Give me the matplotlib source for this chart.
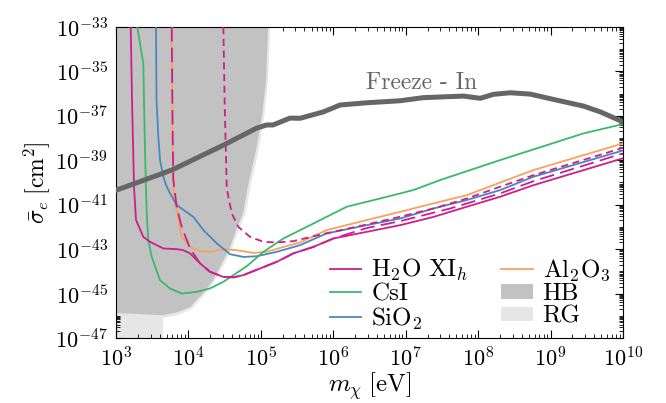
import numpy as np
import matplotlib
matplotlib.use('Agg')
import matplotlib.pyplot as plt
from matplotlib.patches import Patch
from matplotlib.ticker import LogLocator, NullFormatter

plt.rcParams['font.family'] = 'serif'
plt.rcParams['font.serif'] = ['cmr10']
plt.rcParams['mathtext.fontset'] = 'cm'
plt.rcParams['axes.unicode_minus'] = True
plt.rcParams['axes.formatter.use_mathtext'] = True

# all values are log10(m / eV) and log10(sigma / cm^2)
h2o_m = [3.203, 3.221, 3.249, 3.276, 3.377, 3.470, 3.653, 3.838, 3.930, 4.022, 4.160, 4.298,
         4.482, 4.620, 4.758, 4.989, 5.220, 5.449, 5.725, 6.001, 6.463, 6.923, 7.383, 7.844,
         8.304, 8.764, 9.999]
h2o_s = [-33.0, -36.29, -40.25, -41.69, -42.45, -42.67, -42.97, -43.00, -43.05, -43.19, -43.64, -44.02,
         -44.25, -44.27, -44.17, -43.87, -43.57, -43.19, -42.90, -42.52, -42.22, -41.92, -41.55, -41.09,
         -40.64, -40.12, -38.91]

h2o_ld_m = [3.769, 3.780, 3.791, 3.838, 3.907, 4.022, 4.160, 4.298, 4.482, 4.620, 4.758, 4.989,
            5.220, 5.449, 5.725, 6.001, 6.463, 6.923, 7.613, 8.304, 8.764, 9.999]
h2o_ld_s = [-33.0, -37.19, -39.89, -41.09, -42.00, -42.97, -43.64, -44.02, -44.25, -44.27, -44.17, -43.87,
            -43.57, -43.19, -42.90, -42.52, -42.05, -41.74, -41.17, -40.49, -39.94, -38.69]

h2o_sd_m = [4.482, 4.499, 4.529, 4.551, 4.598, 4.689, 4.851, 5.035, 5.220, 5.449, 5.725, 6.001,
            6.463, 6.923, 7.383, 7.844, 8.304, 8.764, 9.999]
h2o_sd_s = [-33.0, -36.29, -40.27, -40.64, -41.39, -42.00, -42.45, -42.67, -42.70, -42.64, -42.42, -42.22,
            -41.89, -41.54, -41.17, -40.72, -40.19, -39.67, -38.44]

csi_m = [3.294, 3.331, 3.377, 3.387, 3.401, 3.414, 3.424, 3.446, 3.493, 3.608, 3.746, 3.907, 4.115,
         4.298, 4.482, 4.805, 5.035, 5.311, 5.680, 6.186, 6.646, 7.106, 7.475, 8.304, 9.454, 9.999]
csi_s = [-33.0, -33.73, -34.64, -36.42, -38.68, -40.27, -41.39, -42.59, -43.35, -44.40, -44.77, -45.00, -44.92,
         -44.77, -44.47, -43.77, -43.12, -42.52, -41.92, -41.09, -40.72, -40.34, -39.89, -38.99, -37.79, -37.37]

sio2_m = [3.552, 3.559, 3.584, 3.608, 3.653, 3.691, 3.746, 3.838, 3.999, 4.068, 4.206, 4.391, 4.575,
          4.758, 4.943, 5.220, 5.541, 5.910, 6.463, 6.923, 7.383, 7.844, 8.304, 8.764, 9.999]
sio2_s = [-33.0, -36.29, -37.94, -38.99, -39.74, -40.12, -40.49, -41.02, -41.39, -41.55, -42.14, -42.74, -43.23,
          -43.35, -43.32, -43.12, -42.82, -42.29, -41.92, -41.62, -41.17, -40.79, -40.34, -39.74, -38.56]

al2o3_m = [3.769, 3.780, 3.801, 3.838, 3.907, 4.022, 4.160, 4.298, 4.482, 4.667, 4.896, 5.081, 5.311,
           5.541, 5.910, 6.463, 6.923, 7.383, 7.844, 8.207, 8.764, 9.999]
al2o3_s = [-33.0, -38.54, -40.79, -41.24, -42.45, -42.90, -43.09, -43.12, -43.00, -43.05, -43.17, -43.12, -42.90,
           -42.70, -42.14, -41.69, -41.32, -40.94, -40.57, -40.12, -39.44, -38.24]

freeze_m = [3.0, 3.769, 4.482, 4.943, 5.081, 5.168, 5.403, 5.541, 5.863, 6.094, 6.463, 6.923, 7.244,
            7.797, 8.028, 8.211, 8.442, 8.718, 9.040, 9.454, 9.685, 10.0]
freeze_s = [-40.35, -39.44, -38.32, -37.55, -37.41, -37.41, -37.10, -37.11, -36.82, -36.51, -36.41, -36.32, -36.18,
            -36.11, -36.21, -36.03, -35.96, -36.02, -36.26, -36.56, -36.82, -37.27]

hb_m = [3.0, 5.099, 5.072, 5.017, 4.934, 4.823, 4.754, 4.657, 4.575, 4.464, 4.340, 4.202, 4.022, 3.843, 3.649, 3.0]
hb_s = [-33.0, -33.0, -35.39, -36.96, -38.54, -40.12, -41.38, -42.14, -42.91, -43.63, -44.40, -44.98, -45.61,
        -45.84, -45.97, -45.88]

rg_m = [3.0, 5.13, 5.10, 5.05, 4.97, 4.86, 4.79, 4.69, 4.61, 4.50, 4.37, 4.23, 4.05, 3.86, 3.65, 3.65, 3.0]
rg_s = [-33.0, -33.0, -35.39, -36.96, -38.54, -40.12, -41.38, -42.14, -42.91, -43.63, -44.40, -45.02, -45.68,
        -45.96, -46.10, -47.0, -47.0]

c_h2o = '#cc1f8a'
c_csi = '#3cb86a'
c_sio2 = '#4a86c0'
c_al = '#f7a35c'
c_hb = '#c2c2c2'
c_rg = '#e6e6e6'
c_fi = '#666666'

def p(a):
    return 10**np.array(a)

fig = plt.figure(figsize=(6.66, 4.03), dpi=100)
ax = fig.add_axes([0.1742, 0.1613, 0.7613, 0.7717])

ax.fill(p(rg_m), p(rg_s), color=c_rg, lw=0, zorder=1)
ax.fill(p(hb_m), p(hb_s), color=c_hb, lw=0, zorder=2)

lw = 1.3
ax.plot(p(al2o3_m), p(al2o3_s), color=c_al, lw=lw, zorder=3)
ax.plot(p(sio2_m), p(sio2_s), color=c_sio2, lw=lw, zorder=3)
ax.plot(p(csi_m), p(csi_s), color=c_csi, lw=lw, zorder=3)
ax.plot(p(h2o_sd_m), p(h2o_sd_s), color=c_h2o, lw=lw, ls=(0, (4, 2.5)), zorder=4)
ax.plot(p(h2o_ld_m), p(h2o_ld_s), color=c_h2o, lw=lw, ls=(0, (8, 3.5)), zorder=4)
ax.plot(p(h2o_m), p(h2o_s), color=c_h2o, lw=lw, zorder=4)
ax.plot(p(freeze_m), p(freeze_s), color=c_fi, lw=3.6, zorder=5)

ax.text(10**7.22, 10**-35.5, 'Freeze - In', color=c_fi, fontsize=17, ha='center', va='center')

ax.set_xscale('log')
ax.set_yscale('log')
ax.set_xlim(1e3, 1e10)
ax.set_ylim(1e-47, 1e-33)
ax.set_xticks([10.0**k for k in range(3, 11)])
ax.set_yticks([10.0**k for k in range(-47, -32, 2)])
ax.xaxis.set_minor_locator(LogLocator(base=10, subs=np.arange(2, 10), numticks=100))
ax.yaxis.set_minor_locator(LogLocator(base=10, subs=np.arange(1, 10), numticks=100))
ax.xaxis.set_minor_formatter(NullFormatter())
ax.yaxis.set_minor_formatter(NullFormatter())
ax.tick_params(which='both', direction='in', top=True, right=True, labelsize=16)
ax.tick_params(which='major', length=6)
ax.tick_params(which='minor', length=3)
ax.tick_params(axis='x', which='major', pad=6)
ax.tick_params(axis='y', which='major', pad=6)

ax.set_xlabel(r'$m_\chi\;[\mathrm{eV}]$', fontsize=18, labelpad=0)
ax.set_ylabel(r'$\bar{\sigma}_e\;[\mathrm{cm}^2]$', fontsize=17, labelpad=2)

handles = [plt.Line2D([], [], color=c_h2o, lw=lw),
           plt.Line2D([], [], color=c_csi, lw=lw),
           plt.Line2D([], [], color=c_sio2, lw=lw),
           plt.Line2D([], [], color=c_al, lw=lw),
           Patch(color=c_hb, lw=0),
           Patch(color=c_rg, lw=0)]
labels = [r'$\mathrm{H_2O\ XI}_h$', 'CsI', r'$\mathrm{SiO_2}$', r'$\mathrm{Al_2O_3}$', 'HB', 'RG']
ax.legend(handles, labels, ncol=2, loc='lower right', bbox_to_anchor=(0.975, 0.02), frameon=False,
          borderaxespad=0, borderpad=0, fontsize=18, handlelength=1.25, handleheight=0.5,
          handletextpad=0.4, labelspacing=0.0, columnspacing=1.3)

fig.savefig('out.png', dpi=100)
